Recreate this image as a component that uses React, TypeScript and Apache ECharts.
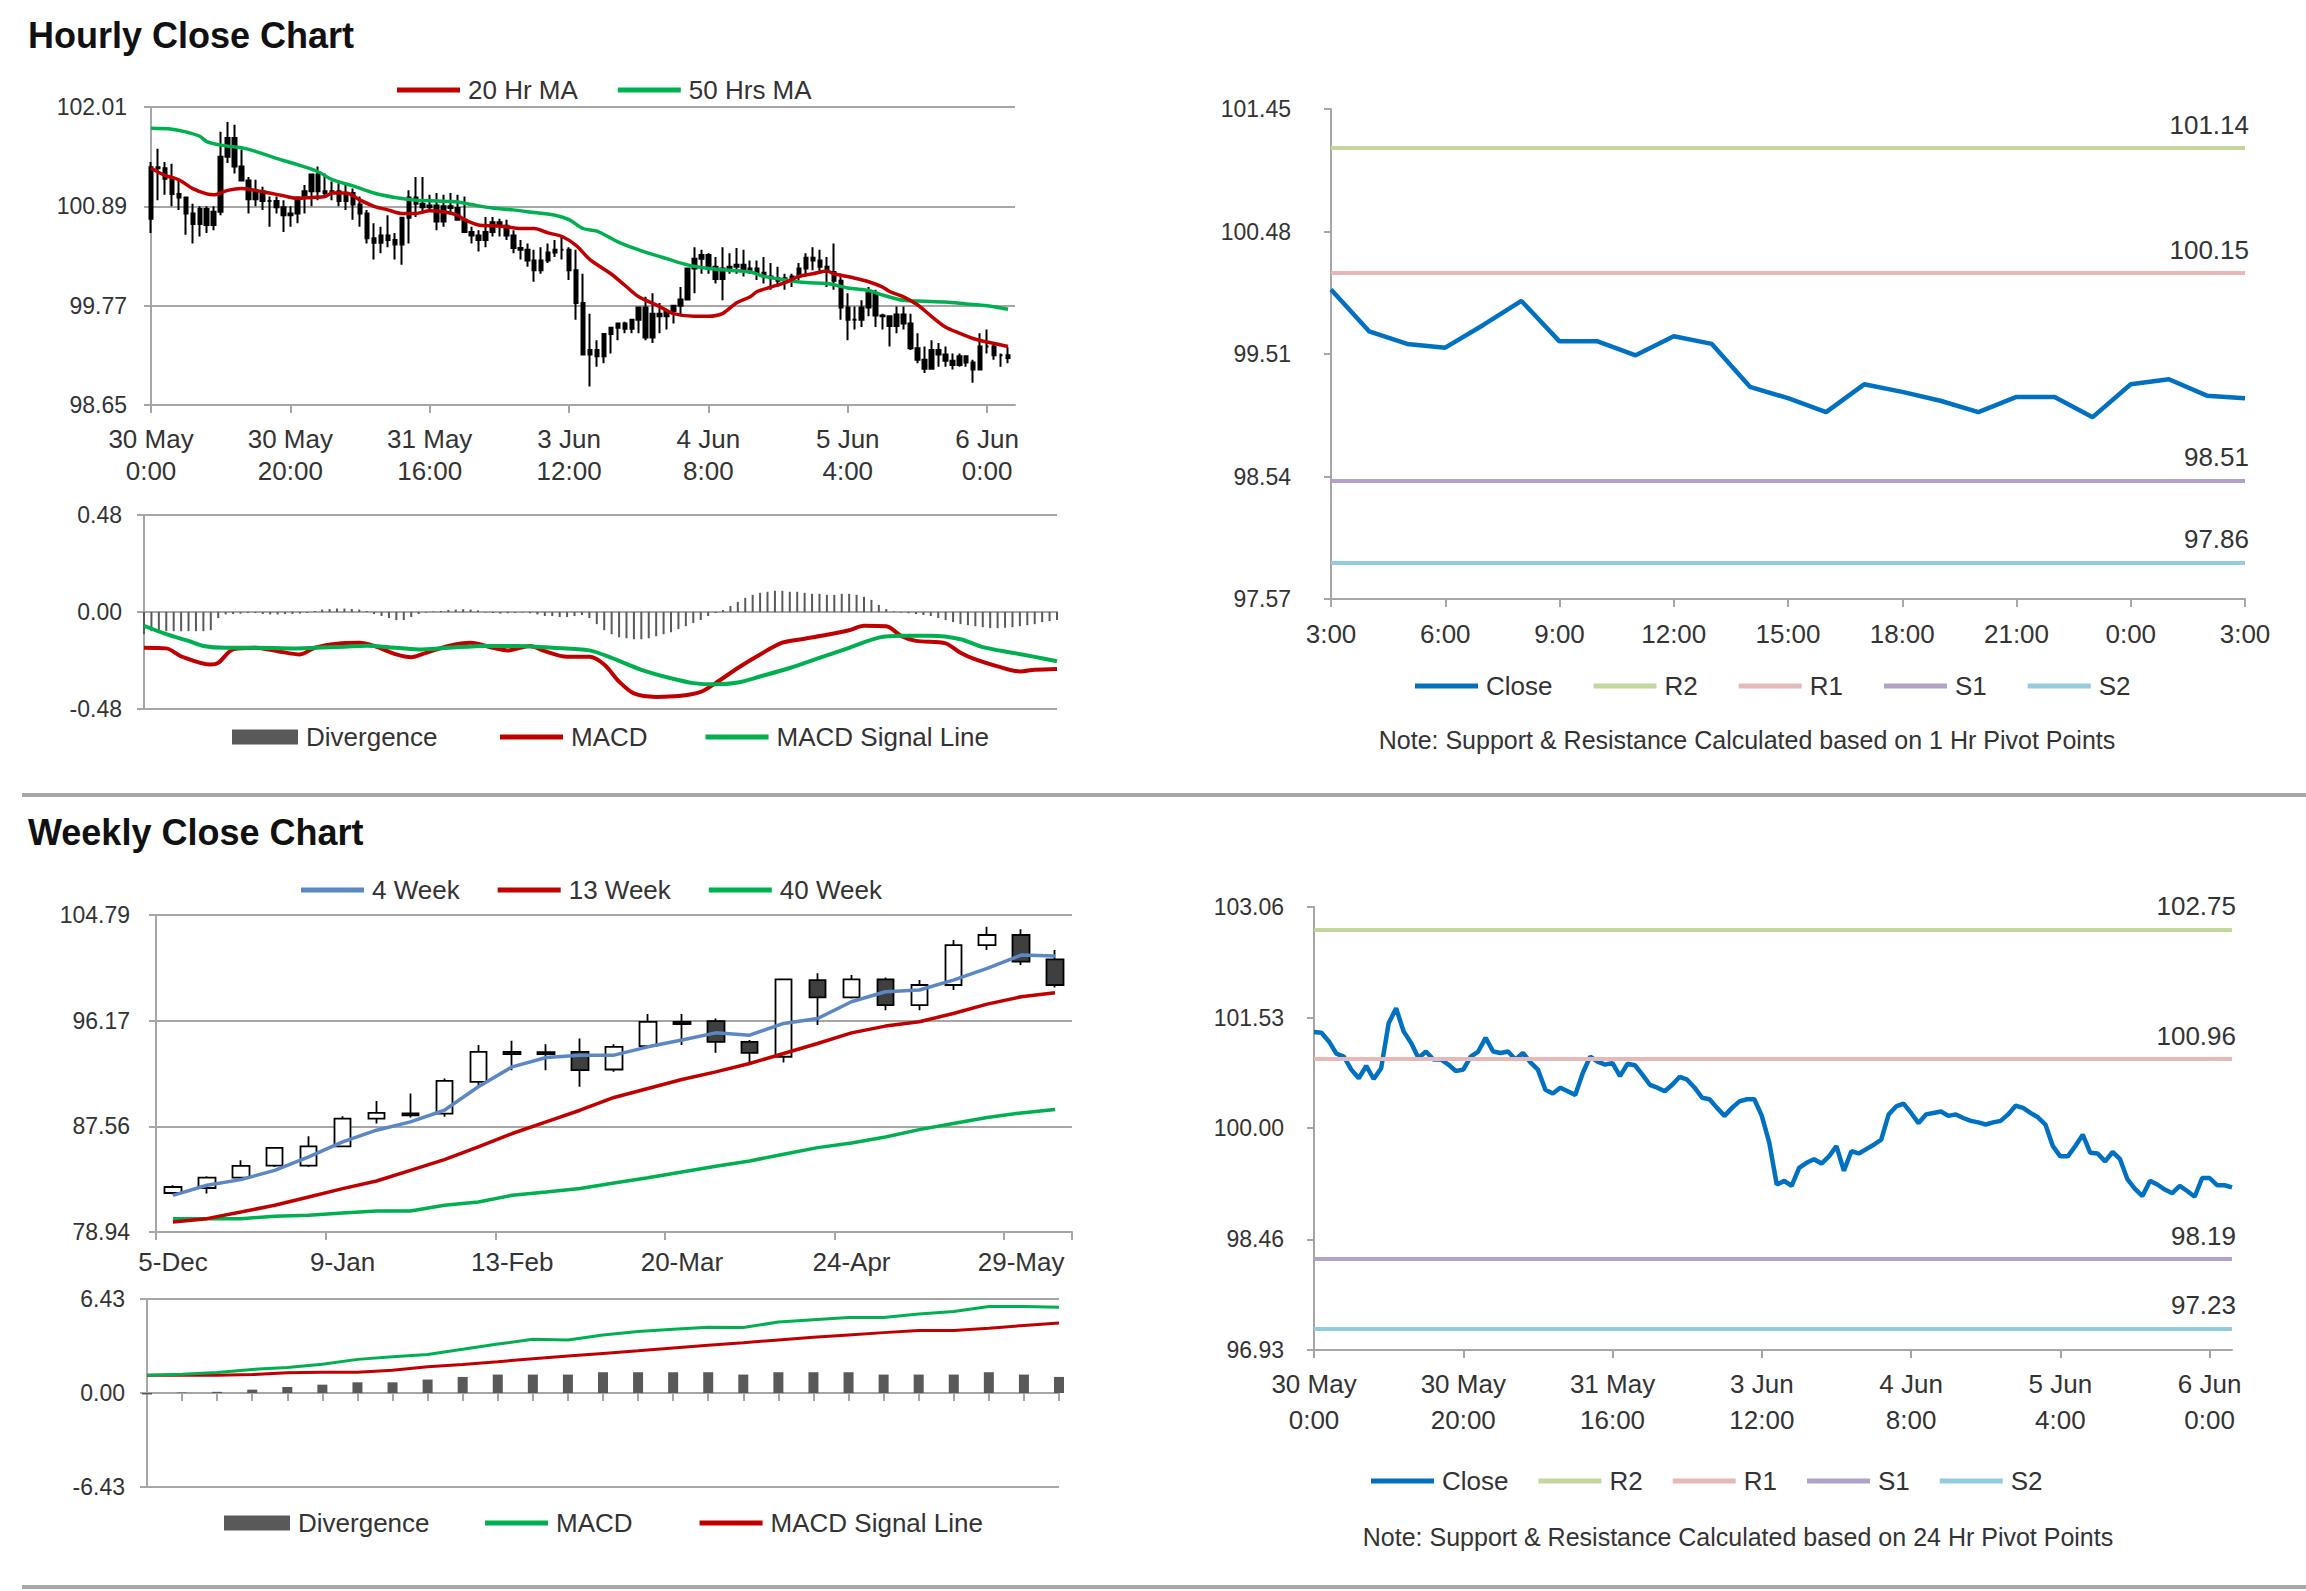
import React, { useEffect, useRef } from 'react';
import * as echarts from 'echarts';

const FONT = "'Liberation Sans', Arial, Helvetica, sans-serif";

// ---------------- Hourly data (30 May 0:00 -> 6 Jun 3:00), one entry per hour ----------------
const hourlyTickLabels = ['30 May\n0:00', '30 May\n20:00', '31 May\n16:00', '3 Jun\n12:00', '4 Jun\n8:00', '5 Jun\n4:00', '6 Jun\n0:00'];
const hourlyFirstOpen = 100.75;
const hourlyClose = [
  101.33, 101.32, 101.20, 101.03, 100.99, 100.81, 100.69, 100.86, 100.68, 100.83,
  101.45, 101.66, 101.34, 101.18, 100.97, 101.06, 100.95, 100.95, 100.88, 100.79,
  100.81, 100.99, 101.06, 101.25, 101.06, 101.04, 101.06, 100.95, 101.04, 100.91,
  100.81, 100.53, 100.48, 100.56, 100.51, 100.46, 100.76, 100.99, 100.92, 100.88,
  100.90, 100.72, 100.89, 100.87, 100.74, 100.60, 100.56, 100.51, 100.60, 100.71,
  100.67, 100.56, 100.42, 100.40, 100.28, 100.17, 100.28, 100.37, 100.40, 100.40,
  100.17, 99.80, 99.22, 99.27, 99.20, 99.45, 99.52, 99.57, 99.51, 99.61,
  99.75, 99.41, 99.68, 99.65, 99.71, 99.77, 99.84, 100.19, 100.30, 100.34,
  100.21, 100.07, 100.19, 100.21, 100.23, 100.17, 100.19, 100.14, 100.10, 100.08,
  100.05, 100.08, 100.10, 100.19, 100.31, 100.28, 100.21, 100.15, 100.05, 99.75,
  99.61, 99.61, 99.75, 99.91, 99.66, 99.65, 99.54, 99.67, 99.57, 99.29,
  99.16, 99.06, 99.27, 99.22, 99.15, 99.10, 99.20, 99.13, 99.05, 99.31,
  99.31, 99.21, 99.21, 99.18,
];
const hourlyHigh = [
  101.39, 101.54, 101.39, 101.37, 101.19, 101.00, 100.92, 100.89, 100.89, 100.89,
  101.73, 101.84, 101.81, 101.53, 101.22, 101.19, 101.11, 101.00, 101.00, 100.96,
  100.89, 101.00, 101.13, 101.24, 101.34, 101.26, 101.17, 101.15, 101.13, 101.09,
  101.00, 100.85, 100.70, 100.66, 100.79, 100.59, 100.66, 101.07, 101.22, 101.22,
  101.02, 101.04, 101.02, 101.04, 101.02, 101.00, 100.66, 100.62, 100.77, 100.77,
  100.75, 100.74, 100.62, 100.51, 100.47, 100.40, 100.43, 100.47, 100.51, 100.55,
  100.43, 100.40, 100.13, 99.68, 99.38, 99.46, 99.53, 99.57, 99.59, 99.59,
  99.65, 99.87, 99.91, 99.80, 99.72, 99.76, 99.98, 100.13, 100.43, 100.40,
  100.36, 100.32, 100.43, 100.36, 100.42, 100.40, 100.28, 100.28, 100.32, 100.25,
  100.21, 100.13, 100.13, 100.25, 100.36, 100.43, 100.40, 100.32, 100.47, 100.13,
  99.91, 99.76, 99.83, 99.98, 99.95, 99.68, 99.65, 99.76, 99.76, 99.68,
  99.46, 99.31, 99.38, 99.35, 99.31, 99.23, 99.23, 99.20, 99.16, 99.46,
  99.50, 99.35, 99.23, 99.30,
];
const hourlyLow = [
  100.59, 100.96, 101.02, 100.89, 100.85, 100.57, 100.47, 100.55, 100.59, 100.62,
  100.79, 101.38, 101.26, 101.19, 100.81, 100.89, 100.85, 100.66, 100.81, 100.60,
  100.66, 100.70, 100.81, 100.89, 100.96, 101.00, 100.96, 100.89, 100.85, 100.74,
  100.66, 100.47, 100.29, 100.36, 100.43, 100.29, 100.23, 100.47, 100.77, 100.81,
  100.85, 100.62, 100.66, 100.81, 100.74, 100.62, 100.47, 100.38, 100.43, 100.55,
  100.55, 100.51, 100.36, 100.29, 100.21, 100.04, 100.13, 100.25, 100.32, 100.29,
  100.06, 99.61, 99.50, 98.86, 99.08, 99.12, 99.23, 99.38, 99.46, 99.46,
  99.46, 99.38, 99.35, 99.46, 99.50, 99.57, 99.65, 99.83, 99.91, 100.13,
  100.13, 100.02, 99.83, 100.13, 100.13, 100.10, 100.13, 100.06, 100.02, 99.95,
  99.98, 99.95, 99.98, 100.06, 100.10, 100.17, 100.13, 99.98, 99.95, 99.61,
  99.38, 99.50, 99.53, 99.65, 99.53, 99.50, 99.31, 99.46, 99.50, 99.27,
  99.12, 99.01, 99.08, 99.08, 99.08, 99.05, 99.08, 99.08, 98.90, 99.08,
  99.23, 99.16, 99.08, 99.12,
];
// moving averages read at sampled hours
const ma20Hours = [0, 2, 4, 6, 8, 9, 11, 13, 15, 17, 19, 21, 23, 25, 26, 28, 30, 32, 34, 36, 38, 40, 42, 44, 45, 47, 49, 51, 53, 55, 57, 59, 61, 63, 66, 68, 70, 73, 75, 78, 80, 82, 84, 86, 87, 89, 91, 93, 95, 97, 98, 101, 103, 105, 106, 108, 110, 112, 114, 116, 118, 120, 123];
const ma20Values = [101.32, 101.24, 101.19, 101.09, 101.03, 101.02, 101.07, 101.09, 101.07, 101.04, 101.01, 100.98, 100.99, 101.00, 101.04, 101.04, 100.96, 100.89, 100.85, 100.81, 100.81, 100.84, 100.83, 100.79, 100.74, 100.68, 100.67, 100.66, 100.64, 100.64, 100.59, 100.55, 100.45, 100.29, 100.13, 100.00, 99.87, 99.76, 99.68, 99.65, 99.65, 99.68, 99.80, 99.87, 99.93, 99.98, 100.03, 100.10, 100.13, 100.16, 100.13, 100.08, 100.04, 99.98, 99.93, 99.87, 99.78, 99.65, 99.53, 99.46, 99.40, 99.36, 99.31];
const ma50Hours = [0, 3, 5, 7, 8, 10, 13, 15, 18, 21, 24, 26, 29, 32, 35, 38, 41, 44, 46, 49, 52, 55, 58, 60, 62, 64, 67, 70, 74, 77, 80, 83, 86, 88, 91, 94, 97, 100, 103, 105, 108, 111, 114, 117, 120, 123];
const ma50Values = [101.77, 101.76, 101.73, 101.68, 101.62, 101.58, 101.55, 101.51, 101.43, 101.36, 101.28, 101.19, 101.12, 101.04, 100.99, 100.96, 100.95, 100.94, 100.91, 100.87, 100.85, 100.82, 100.79, 100.74, 100.64, 100.61, 100.49, 100.40, 100.30, 100.23, 100.19, 100.17, 100.15, 100.10, 100.06, 100.03, 100.02, 99.97, 99.94, 99.89, 99.83, 99.82, 99.81, 99.79, 99.77, 99.73];
const hourlyDivergence = [
  -0.11, -0.095, -0.095, -0.095, -0.095, -0.095, -0.095, -0.095, -0.095, -0.09,
  -0.03, -0.012, -0.01, -0.008, -0.005, -0.005, -0.01, -0.012, -0.012, -0.01,
  -0.01, -0.008, -0.005, 0.005, 0.012, 0.015, 0.017, 0.017, 0.015, 0.012,
  0.005, -0.01, -0.02, -0.03, -0.04, -0.04, -0.025, -0.01, -0.003, 0.003,
  0.005, 0.01, 0.012, 0.014, 0.012, 0.008, -0.003, -0.005, -0.008, -0.006,
  -0.004, -0.003, -0.006, -0.012, -0.02, -0.02, -0.025, -0.025, -0.02, -0.015,
  -0.03, -0.06, -0.09, -0.11, -0.125, -0.13, -0.135, -0.135, -0.13, -0.12,
  -0.11, -0.10, -0.085, -0.07, -0.055, -0.04, -0.02, -0.005, 0.01, 0.03,
  0.05, 0.07, 0.085, 0.095, 0.10, 0.105, 0.105, 0.10, 0.10, 0.095,
  0.09, 0.09, 0.085, 0.085, 0.09, 0.09, 0.085, 0.075, 0.06, 0.035,
  0.015, 0.003, -0.003, -0.006, -0.01, -0.015, -0.02, -0.03, -0.04, -0.05,
  -0.06, -0.065, -0.07, -0.075, -0.08, -0.08, -0.078, -0.075, -0.07, -0.065,
  -0.06, -0.05, -0.045, -0.04,
];
const hourlyMacdHours = [0, 3, 5, 9, 10, 12, 15, 18, 21, 23, 26, 29, 31, 34, 36, 38, 41, 44, 47, 49, 52, 54, 57, 60, 62, 64, 66, 69, 72, 75, 77, 80, 83, 86, 89, 92, 95, 97, 100, 102, 104, 108, 110, 112, 115, 118, 120, 123];
const hourlyMacdValues = [-0.177, -0.180, -0.219, -0.260, -0.252, -0.185, -0.177, -0.194, -0.210, -0.177, -0.157, -0.152, -0.168, -0.210, -0.224, -0.202, -0.168, -0.152, -0.177, -0.190, -0.168, -0.194, -0.222, -0.222, -0.260, -0.344, -0.403, -0.420, -0.416, -0.395, -0.352, -0.277, -0.210, -0.152, -0.132, -0.113, -0.090, -0.068, -0.071, -0.118, -0.143, -0.155, -0.202, -0.235, -0.269, -0.294, -0.286, -0.282];
const hourlySignalHours = [0, 3, 6, 8, 11, 15, 20, 23, 27, 30, 33, 37, 41, 46, 50, 55, 60, 63, 67, 71, 74, 77, 80, 83, 87, 91, 95, 99, 102, 106, 110, 113, 117, 120, 123];
const hourlySignalValues = [-0.068, -0.110, -0.143, -0.168, -0.177, -0.177, -0.180, -0.177, -0.172, -0.167, -0.174, -0.185, -0.177, -0.168, -0.168, -0.177, -0.190, -0.227, -0.286, -0.328, -0.352, -0.358, -0.349, -0.319, -0.277, -0.227, -0.177, -0.127, -0.118, -0.118, -0.135, -0.174, -0.202, -0.222, -0.244];
const hourlyPriceTicks = [98.65, 99.77, 100.89, 102.01];
const hourlyMacdTicks = [-0.48, 0, 0.48];

// ---------------- Pivot charts ----------------
const pivotNames = ['R2', 'R1', 'S1', 'S2'];
const pivot1hLabels = ['3:00', '4:00', '5:00', '6:00', '7:00', '8:00', '9:00', '10:00', '11:00', '12:00', '13:00', '14:00', '15:00', '16:00', '17:00', '18:00', '19:00', '20:00', '21:00', '22:00', '23:00', '0:00', '1:00', '2:00', '3:00'];
const pivot1hClose = [100.02, 99.69, 99.59, 99.56, 99.74, 99.93, 99.61, 99.61, 99.50, 99.65, 99.59, 99.25, 99.16, 99.05, 99.27, 99.21, 99.14, 99.05, 99.17, 99.17, 99.01, 99.27, 99.31, 99.18, 99.16];
const pivot1hLevels = [101.14, 100.15, 98.51, 97.86];
const pivot1hTicks = [97.57, 98.54, 99.51, 100.48, 101.45];
const pivot24hLevels = [102.75, 100.96, 98.19, 97.23];
const pivot24hTicks = [96.93, 98.46, 100.0, 101.53, 103.06];

// ---------------- Weekly data ----------------
const weeklyDates = ['5-Dec', '12-Dec', '19-Dec', '26-Dec', '2-Jan', '9-Jan', '16-Jan', '23-Jan', '30-Jan', '6-Feb', '13-Feb', '20-Feb', '27-Feb', '6-Mar', '13-Mar', '20-Mar', '27-Mar', '3-Apr', '10-Apr', '17-Apr', '24-Apr', '1-May', '8-May', '15-May', '22-May', '29-May', '5-Jun'];
const weeklyOpen = [82.12, 82.53, 83.37, 84.36, 84.36, 85.93, 88.19, 88.62, 88.60, 91.19, 93.63, 93.60, 93.63, 92.19, 94.10, 96.08, 96.14, 94.45, 93.23, 99.48, 98.07, 99.54, 97.44, 99.08, 102.34, 103.16, 101.17];
const weeklyClose = [82.61, 83.37, 84.33, 85.80, 85.93, 88.19, 88.65, 88.45, 91.26, 93.63, 93.45, 93.45, 92.14, 94.04, 96.08, 95.90, 94.45, 93.55, 99.54, 98.07, 99.54, 97.44, 99.08, 102.34, 103.16, 100.98, 99.08];
const weeklyLow = [82.01, 82.07, 83.29, 84.25, 84.25, 85.88, 87.78, 88.27, 88.33, 90.78, 92.14, 92.14, 90.78, 92.00, 93.99, 94.18, 93.55, 92.68, 92.76, 95.81, 97.99, 97.03, 97.03, 98.67, 101.93, 100.71, 98.88];
const weeklyHigh = [82.75, 83.48, 84.79, 85.88, 86.75, 88.38, 89.63, 90.23, 91.46, 94.18, 94.53, 94.26, 94.72, 94.26, 96.71, 96.71, 96.35, 94.59, 99.62, 100.03, 99.89, 99.70, 99.48, 102.75, 103.84, 103.62, 101.93];
const week4 = [81.93, 82.75, 83.21, 83.97, 85.06, 86.29, 87.24, 87.92, 88.87, 90.78, 92.41, 93.17, 93.36, 93.36, 94.04, 94.59, 95.18, 94.99, 95.95, 96.35, 97.72, 98.53, 98.67, 99.48, 100.44, 101.52, 101.44];
const week13 = [79.76, 80.03, 80.57, 81.12, 81.80, 82.48, 83.10, 83.97, 84.84, 85.88, 86.97, 87.92, 88.87, 89.91, 90.64, 91.38, 92.00, 92.68, 93.50, 94.31, 95.18, 95.73, 96.08, 96.76, 97.52, 98.12, 98.45];
const week40 = [80.03, 80.03, 80.03, 80.22, 80.30, 80.49, 80.65, 80.65, 81.12, 81.39, 81.93, 82.20, 82.48, 82.94, 83.37, 83.84, 84.30, 84.73, 85.28, 85.82, 86.20, 86.69, 87.29, 87.78, 88.27, 88.65, 88.93];
const weeklyDivergence = [-0.10, 0.03, 0.08, 0.23, 0.41, 0.57, 0.73, 0.73, 0.92, 1.10, 1.26, 1.26, 1.26, 1.42, 1.42, 1.42, 1.42, 1.26, 1.42, 1.42, 1.42, 1.26, 1.26, 1.26, 1.42, 1.26, 1.10];
const weeklyMacd = [1.22, 1.29, 1.40, 1.61, 1.75, 1.97, 2.30, 2.48, 2.64, 2.99, 3.35, 3.67, 3.63, 3.97, 4.20, 4.36, 4.50, 4.48, 4.85, 5.01, 5.17, 5.17, 5.40, 5.58, 5.92, 5.92, 5.86];
const weeklySignal = [1.22, 1.22, 1.22, 1.26, 1.38, 1.42, 1.42, 1.56, 1.79, 1.95, 2.14, 2.34, 2.53, 2.71, 2.89, 3.08, 3.26, 3.44, 3.63, 3.81, 3.97, 4.13, 4.27, 4.27, 4.43, 4.62, 4.78];
const weeklyPriceTicks = [78.94, 87.56, 96.17, 104.79];
const weeklyMacdTicks = [-6.43, 0, 6.43];

// ---------------- styling ----------------
const RED = '#c00000';
const GREEN = '#00b050';
const CLOSE_BLUE = '#0070c0';
const WK_BLUE = '#5b87c5';
const DIV_GRAY = '#595959';
const AXIS_GRAY = '#a6a6a6';
const PIVOT_COLORS = ['#c3d69b', '#e6b9b8', '#b3a2c7', '#93cddd'];
const TEXT = '#333333';
const LABEL_SIZE = 26;

function sparse(n: number, idx: number[], vals: number[]) {
  const a: (number | null)[] = new Array(n).fill(null);
  idx.forEach((k, j) => { a[k] = vals[j]; });
  return a;
}

function valueAxis(gridIndex: number, ticks: number[], margin: number, split: boolean) {
  return {
    type: 'value',
    gridIndex,
    min: ticks[0],
    max: ticks[ticks.length - 1],
    axisLine: { show: true, lineStyle: { color: AXIS_GRAY, width: 2 } },
    axisTick: { show: true, length: 7, customValues: ticks, lineStyle: { color: AXIS_GRAY, width: 2 } },
    axisLabel: {
      customValues: ticks, margin, color: TEXT, fontSize: 23, fontFamily: FONT,
      formatter: (v: number) => v.toFixed(2),
    },
    splitLine: { show: split, lineStyle: { color: AXIS_GRAY, width: 2 } },
  };
}

function catAxis(gridIndex: number, data: string[], opts: any) {
  return {
    type: 'category',
    gridIndex,
    data,
    boundaryGap: opts.boundaryGap ?? false,
    axisLine: { show: true, onZero: opts.onZero ?? false, lineStyle: { color: AXIS_GRAY, width: 2 } },
    axisTick: opts.tick !== undefined
      ? { show: true, interval: opts.tick, length: 8, lineStyle: { color: AXIS_GRAY, width: 2 } }
      : { show: false },
    axisLabel: opts.label
      ? {
        show: true, interval: opts.label.interval, margin: opts.label.margin, lineHeight: opts.label.lineHeight,
        color: TEXT, fontSize: LABEL_SIZE, fontFamily: FONT, formatter: opts.label.formatter,
      }
      : { show: false },
    splitLine: { show: false },
  };
}

function legendAt(names: string[], colors: string[], left: number, cy: number, itemGap: number, w = 63, h = 5) {
  return {
    left, top: cy - 14, orient: 'horizontal', padding: 0, itemGap, itemWidth: w, itemHeight: h,
    icon: 'rect', selectedMode: false,
    textStyle: { color: TEXT, fontSize: LABEL_SIZE, fontFamily: FONT, padding: [0, 0, 0, 3] },
    data: names.map((n, k) => ({ name: n, icon: 'rect', itemStyle: { color: colors[k], borderWidth: 0 } })),
  };
}

function lineSeries(name: string, xi: number, data: any[], color: string, width: number, smooth: number | boolean = false) {
  return {
    name, type: 'line', xAxisIndex: xi, yAxisIndex: xi, data, symbol: 'none', showSymbol: false,
    connectNulls: true, smooth, itemStyle: { color }, lineStyle: { color, width },
    emphasis: { disabled: true }, silent: true, z: 3,
  };
}

function pivotSeries(xi: number, levels: number[]) {
  return pivotNames.map((n, k) => ({
    name: n, type: 'line', xAxisIndex: xi, yAxisIndex: xi, data: [], symbol: 'none',
    itemStyle: { color: PIVOT_COLORS[k] }, lineStyle: { color: PIVOT_COLORS[k], width: 4 },
    markLine: {
      silent: true, symbol: ['none', 'none'], animation: false,
      lineStyle: { color: PIVOT_COLORS[k], width: 4, type: 'solid' },
      label: {
        show: true, position: 'insideEndTop', distance: [-4, 10], formatter: levels[k].toFixed(2),
        color: TEXT, fontSize: LABEL_SIZE, fontFamily: FONT,
      },
      emphasis: { disabled: true },
      data: [{ yAxis: levels[k] }],
    },
    z: 2,
  }));
}

function buildOption() {
  const nH = hourlyClose.length;
  const hourCats = Array.from({ length: nH + 1 }, (_, i) => String(i));
  const hourCatsExact = Array.from({ length: nH }, (_, i) => String(i));
  const pivot1hCats = pivot1hLabels.map((_, i) => String(i));

  const hourlyOHLC = hourlyClose.map((c, i) => {
    const o = i === 0 ? hourlyFirstOpen : hourlyClose[i - 1];
    return [o, c, Math.min(o, c, hourlyLow[i]), Math.max(o, c, hourlyHigh[i])];
  });
  const weeklyOHLC = weeklyOpen.map((o, i) => [o, weeklyClose[i], weeklyLow[i], weeklyHigh[i]]);

  const hourLabel = (_v: string, i: number) => hourlyTickLabels[Math.round(i / 20)];

  return {
    animation: false,
    backgroundColor: '#ffffff',
    textStyle: { fontFamily: FONT },
    grid: [
      { left: 151, top: 107, width: 864, height: 298 },
      { left: 144, top: 515, width: 913, height: 194 },
      { left: 1331, top: 109, width: 914, height: 490 },
      { left: 156, top: 915, width: 916, height: 317 },
      { left: 147, top: 1299, width: 912, height: 188 },
      { left: 1314, top: 907, width: 918, height: 443 },
    ],
    xAxis: [
      catAxis(0, hourCats, { tick: 19, label: { interval: 19, margin: 18, lineHeight: 32, formatter: hourLabel } }),
      catAxis(1, hourCatsExact, { onZero: true }),
      catAxis(2, pivot1hCats, { tick: 2, label: { interval: 2, margin: 22, lineHeight: 26, formatter: (_v: string, i: number) => pivot1hLabels[i] } }),
      catAxis(3, weeklyDates, { boundaryGap: true, tick: 4, label: { interval: 4, margin: 17, lineHeight: 26 } }),
      catAxis(4, weeklyDates, { onZero: true, tick: 0 }),
      catAxis(5, hourCatsExact, { tick: 19, label: { interval: 19, margin: 16, lineHeight: 36, formatter: hourLabel } }),
    ],
    yAxis: [
      valueAxis(0, hourlyPriceTicks, 24, true),
      valueAxis(1, hourlyMacdTicks, 22, true),
      valueAxis(2, pivot1hTicks, 40, false),
      valueAxis(3, weeklyPriceTicks, 26, true),
      valueAxis(4, weeklyMacdTicks, 22, true),
      valueAxis(5, pivot24hTicks, 30, false),
    ],
    legend: [
      legendAt(['20 Hr MA', '50 Hrs MA'], [RED, GREEN], 397, 91, 40),
      legendAt(['Divergence'], [DIV_GRAY], 232, 738, 0, 66, 15),
      legendAt(['MACD', 'MACD Signal Line'], [RED, GREEN], 500, 738, 58),
      legendAt(['Close', 'R2', 'R1', 'S1', 'S2'], [CLOSE_BLUE, ...PIVOT_COLORS], 1415, 687, 41),
      legendAt(['4 Week', '13 Week', '40 Week'], [WK_BLUE, RED, GREEN], 301, 891, 38),
      legendAt(['Divergence'], [DIV_GRAY], 224, 1524, 0, 66, 15),
      legendAt(['MACD', 'MACD Signal Line'], [GREEN, RED], 485, 1524, 67),
      legendAt(['Close', 'R2', 'R1', 'S1', 'S2'], [CLOSE_BLUE, ...PIVOT_COLORS], 1371, 1482, 30),
    ],
    series: [
      // hourly price bars + MAs
      {
        name: 'Hourly', type: 'candlestick', xAxisIndex: 0, yAxisIndex: 0, data: hourlyOHLC, barWidth: 4,
        itemStyle: { color: '#000', color0: '#000', borderColor: '#000', borderColor0: '#000', borderWidth: 2 },
        silent: true, z: 2,
      },
      lineSeries('50 Hrs MA', 0, sparse(nH, ma50Hours, ma50Values), GREEN, 3.5, 0.3),
      lineSeries('20 Hr MA', 0, sparse(nH, ma20Hours, ma20Values), RED, 3.5, 0.3),
      // hourly MACD
      {
        name: 'Divergence', type: 'bar', xAxisIndex: 1, yAxisIndex: 1, data: hourlyDivergence, barWidth: 2,
        itemStyle: { color: DIV_GRAY }, silent: true, clip: false,
      },
      lineSeries('MACD', 1, sparse(nH, hourlyMacdHours, hourlyMacdValues), RED, 4, 0.3),
      lineSeries('MACD Signal Line', 1, sparse(nH, hourlySignalHours, hourlySignalValues), GREEN, 4, 0.3),
      // 1h pivot chart
      ...pivotSeries(2, pivot1hLevels),
      lineSeries('Close', 2, pivot1hClose, CLOSE_BLUE, 4.5),
      // weekly candles + MAs
      {
        name: 'Weekly', type: 'candlestick', xAxisIndex: 3, yAxisIndex: 3, data: weeklyOHLC, barWidth: 17,
        itemStyle: { color: '#ffffff', color0: '#3f3f3f', borderColor: '#000', borderColor0: '#000', borderWidth: 1.8 },
        silent: true, z: 2,
      },
      lineSeries('40 Week', 3, week40, GREEN, 3.5),
      lineSeries('13 Week', 3, week13, RED, 3.5),
      lineSeries('4 Week', 3, week4, WK_BLUE, 3.5),
      // weekly MACD
      {
        name: 'Divergence', type: 'bar', xAxisIndex: 4, yAxisIndex: 4, data: weeklyDivergence, barWidth: 10,
        itemStyle: { color: DIV_GRAY }, silent: true, clip: false,
      },
      lineSeries('MACD Signal Line', 4, weeklySignal, RED, 3),
      lineSeries('MACD', 4, weeklyMacd, GREEN, 3),
      // 24h pivot chart
      ...pivotSeries(5, pivot24hLevels),
      lineSeries('Close', 5, hourlyClose, CLOSE_BLUE, 4.5),
    ],
    graphic: [
      {
        type: 'text', x: 28, y: 35, silent: true,
        style: { text: 'Hourly Close Chart', font: `bold 36px ${FONT}`, fill: '#111', align: 'left', verticalAlign: 'middle', textAlign: 'left', textVerticalAlign: 'middle' },
      },
      {
        type: 'text', x: 28, y: 832, silent: true,
        style: { text: 'Weekly Close Chart', font: `bold 36px ${FONT}`, fill: '#111', align: 'left', verticalAlign: 'middle', textAlign: 'left', textVerticalAlign: 'middle' },
      },
      {
        type: 'text', x: 1747, y: 740, silent: true,
        style: { text: 'Note: Support & Resistance Calculated based on 1 Hr Pivot Points', font: `25px ${FONT}`, fill: TEXT, align: 'center', verticalAlign: 'middle', textAlign: 'center', textVerticalAlign: 'middle' },
      },
      {
        type: 'text', x: 1738, y: 1537, silent: true,
        style: { text: 'Note: Support & Resistance Calculated based on 24 Hr Pivot Points', font: `25px ${FONT}`, fill: TEXT, align: 'center', verticalAlign: 'middle', textAlign: 'center', textVerticalAlign: 'middle' },
      },
      { type: 'rect', silent: true, shape: { x: 22, y: 793, width: 2284, height: 4 }, style: { fill: '#a6a6a6' } },
      { type: 'rect', silent: true, shape: { x: 22, y: 1585, width: 2284, height: 4 }, style: { fill: '#a6a6a6' } },
    ],
  };
}

export default function App() {
  const ref = useRef<HTMLDivElement>(null);
  useEffect(() => {
    document.body.style.margin = '0';
    const chart = echarts.init(ref.current as HTMLDivElement, undefined, { renderer: 'svg' });
    chart.setOption(buildOption() as any);
    return () => chart.dispose();
  }, []);
  return <div ref={ref} style={{ width: 2306, height: 1591, background: '#ffffff' }} />;
}
